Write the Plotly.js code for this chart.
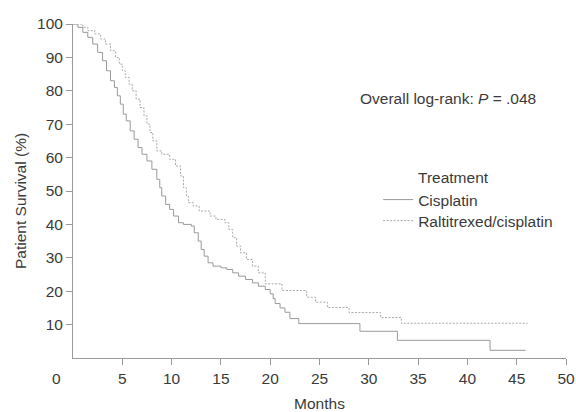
<!DOCTYPE html>
<html>
<head>
<meta charset="utf-8">
<script src="https://cdn.plot.ly/plotly-3.0.1.min.js"></script>
<style>html,body{margin:0;padding:0;background:#fff;}#chart{width:576px;height:412px;}</style>
</head>
<body>
<div id="chart"></div>
<script>
// Kaplan-Meier step data (months, % surviving)
const cisMonths = [0, 0.5, 1.0, 1.5, 2.0, 2.5, 3.0, 3.4, 3.8, 4.2, 4.5, 4.8, 5.1, 5.4, 5.8, 6.2, 6.6, 7.0, 7.5, 8.0, 8.5, 8.8, 9.0, 9.4, 9.8, 10.2, 10.7, 11.2, 12.0, 12.3, 12.7, 13.0, 13.3, 13.7, 14.2, 15.0, 15.6, 16.2, 16.8, 17.5, 18.2, 18.8, 19.5, 20.0, 20.3, 20.5, 21.0, 21.5, 22.0, 22.9, 29.1, 32.9, 42.3, 45.9];
const cisSurv   = [100, 99, 97.5, 96, 94, 91.5, 89, 86, 83, 81, 78.5, 76, 73, 71, 68, 65.5, 63, 61, 59, 56.5, 53.5, 51, 48.5, 46, 44.5, 42.5, 40.5, 40, 39.5, 37.5, 35, 32.5, 30.5, 28.5, 27.5, 27, 26.5, 25.5, 24.5, 23.5, 22.5, 21.5, 20.5, 19.2, 17.8, 16.3, 15, 13.7, 11.8, 10.3, 8.0, 5.3, 2.3, 2.3];

const ralMonths = [0, 1.0, 1.5, 2.2, 2.8, 3.3, 3.8, 4.3, 4.7, 5.0, 5.3, 5.7, 6.0, 6.4, 6.8, 7.2, 7.5, 7.8, 8.1, 8.5, 9.0, 9.8, 10.4, 10.9, 11.2, 11.5, 11.7, 12.2, 12.8, 13.9, 14.5, 15.4, 15.8, 16.2, 16.6, 17.0, 17.6, 18.2, 18.8, 19.5, 21.2, 23.7, 24.6, 25.8, 28.0, 31.2, 33.3, 46.1];
const ralSurv   = [100, 99, 98, 97, 95.5, 94, 92, 90, 88, 86, 84, 82, 80, 77.5, 75, 72.5, 70, 67.5, 65, 62, 61, 59.5, 57.5, 54.5, 51, 48.5, 46.5, 45.5, 44, 42.5, 41.5, 40.5, 38.5, 36, 33.5, 31.5, 29.5, 27.5, 25.5, 22.2, 20.2, 18.2, 16.7, 15.1, 13.6, 12.1, 10.4, 10.4];

const seriesNames = ["Cisplatin", "Raltitrexed/cisplatin"];
const xTicks = [5, 10, 15, 20, 25, 30, 35, 40, 45, 50];
const yTicks = [10, 20, 30, 40, 50, 60, 70, 80, 90, 100];

const FONT = "'Liberation Sans', Arial, Helvetica, sans-serif";
const FS = 15.5;
const TXT = "#3a3a3a";
const AX = "#9a9a9a";

const traces = [
  {x: cisMonths, y: cisSurv, name: seriesNames[0], mode: "lines", legend: "legend",
   line: {shape: "hv", color: "#9a9a9a", width: 1}},
  {x: ralMonths, y: ralSurv, name: seriesNames[1], mode: "lines", legend: "legend2",
   line: {shape: "hv", color: "#a8a8a8", width: 1, dash: "2px,1.5px"}}
];

const legendBase = {xanchor: "left", yanchor: "middle", bgcolor: "rgba(0,0,0,0)",
                    font: {family: FONT, size: FS, color: TXT}};

const layout = {
  width: 576, height: 412,
  margin: {l: 73, r: 10, t: 24, b: 54, pad: 0},
  paper_bgcolor: "#fff", plot_bgcolor: "#fff",
  font: {family: FONT, size: FS, color: TXT},
  showlegend: true,
  legend: Object.assign({x: 0.619, y: 0.473}, legendBase),
  legend2: Object.assign({x: 0.619, y: 0.410}, legendBase),
  xaxis: {range: [0, 50], tickvals: xTicks, ticktext: xTicks.map(String),
          showgrid: false, zeroline: false, showline: true, linecolor: AX, linewidth: 1,
          ticks: "outside", ticklen: 6, tickcolor: AX, tickwidth: 1,
          tickfont: {family: FONT, size: FS, color: TXT},
          title: {text: "Months", font: {family: FONT, size: FS, color: TXT}, standoff: 12}},
  yaxis: {range: [0, 100], tickvals: yTicks, ticktext: yTicks.map(String),
          showgrid: false, zeroline: false, showline: true, linecolor: AX, linewidth: 1,
          ticks: "outside", ticklen: 6, tickcolor: AX, tickwidth: 1,
          tickfont: {family: FONT, size: FS, color: TXT}},
  annotations: [
    {text: "Patient Survival (%)", xref: "paper", yref: "paper",
     x: -0.1075, y: 0.47, xanchor: "center", yanchor: "middle", textangle: -90, showarrow: false,
     font: {family: FONT, size: FS, color: TXT}},
    {text: "Overall log-rank: <i>P</i> = .048", xref: "paper", yref: "paper",
     x: 0.578, y: 0.778, xanchor: "left", yanchor: "middle", showarrow: false,
     font: {family: FONT, size: FS, color: TXT}},
    {text: "Treatment", xref: "paper", yref: "paper",
     x: 0.696, y: 0.539, xanchor: "left", yanchor: "middle", showarrow: false,
     font: {family: FONT, size: FS, color: TXT}},
    {text: "0", xref: "paper", yref: "paper",
     x: -0.034, y: -0.06, xanchor: "center", yanchor: "middle", showarrow: false,
     font: {family: FONT, size: FS, color: TXT}}
  ]
};

Plotly.newPlot("chart", traces, layout, {staticPlot: true, displayModeBar: false});
</script>
</body>
</html>
